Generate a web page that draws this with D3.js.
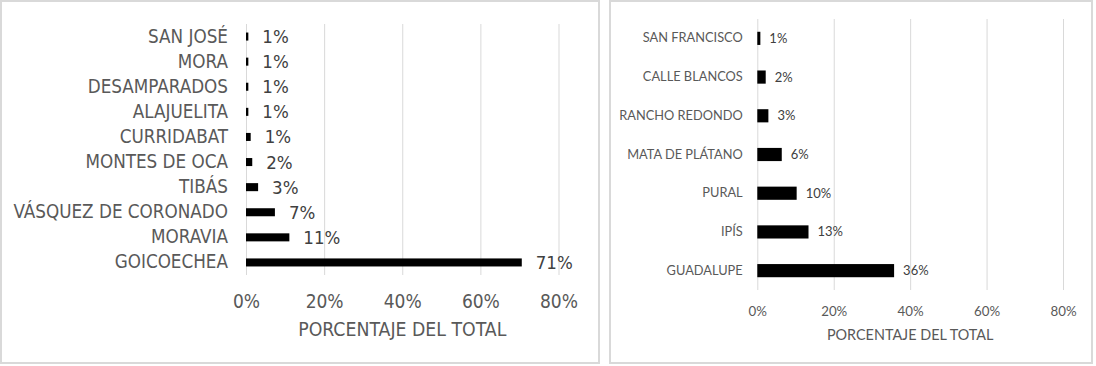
<!DOCTYPE html>
<html>
<head>
<meta charset="utf-8">
<script src="https://cdn.jsdelivr.net/npm/d3@7"></script>
<style>
    body { margin: 0; background: #fff; }
    .grid line { stroke: #d9d9d9; stroke-width: 1; }
    .grid .domain { display: none; }
    .cat .domain { display: none; }
</style>
</head>
<body>
<div id="chart-area"></div>
<script>

// Data (top to bottom, as in the picture)
var cantones = ["SAN JOSÉ", "MORA", "DESAMPARADOS", "ALAJUELITA", "CURRIDABAT",
    "MONTES DE OCA", "TIBÁS", "VÁSQUEZ DE CORONADO", "MORAVIA", "GOICOECHEA"];
var cantonPct = [0.6, 0.6, 0.6, 0.6, 1.2, 1.6, 3.1, 7.4, 11.1, 70.6];

var distritos = ["SAN FRANCISCO", "CALLE BLANCOS", "RANCHO REDONDO", "MATA DE PLÁTANO",
    "PURAL", "IPÍS", "GUADALUPE"];
var distritoPct = [0.8, 2.2, 2.9, 6.4, 10.3, 13.4, 35.8];

var xTicks = [0, 20, 40, 60, 80];
var xTitle = "PORCENTAJE DEL TOTAL";


// SVG drawing area
var svg = d3.select("#chart-area").append("svg")
    .attr("width", 1096)
    .attr("height", 366);

barPanel(cantones, cantonPct, {
    box: [1, 1, 599, 363],
    left: 246, top: 24, width: 312.5, height: 251,
    pad: 0.68,
    font: "Tahoma, 'DejaVu Sans Condensed', 'DejaVu Sans', sans-serif",
    catSize: 18.7, valSize: 18.5, tickSize: 19, titleSize: 19.3,
    catGap: 18, valGap: 14, tickPad: 20, titleY: 329
});

barPanel(distritos, distritoPct, {
    box: [610, 1, 1092, 363],
    left: 757.3, top: 19, width: 305.7, height: 271,
    pad: 0.66,
    font: "Lato, Calibri, sans-serif",
    catSize: 12.8, valSize: 13, tickSize: 13.3, titleSize: 14.4,
    catGap: 14.6, valGap: 9, tickPad: 16.5, titleY: 335
});


function barPanel(names, values, p) {

    // panel border
    svg.append("rect")
        .attr("x", p.box[0])
        .attr("y", p.box[1])
        .attr("width", p.box[2] - p.box[0])
        .attr("height", p.box[3] - p.box[1])
        .attr("fill", "#fff")
        .attr("stroke", "#d9d9d9")
        .attr("stroke-width", 2);

    var g = svg.append("g")
        .attr("transform", "translate(" + p.left + "," + p.top + ")");

    // Scales
    var x = d3.scaleLinear()
        .domain([0, 80])
        .range([0, p.width]);

    var y = d3.scaleBand()
        .domain(names)
        .range([0, p.height])
        .paddingInner(p.pad)
        .paddingOuter(p.pad / 2);

    // gridlines + tick labels
    var xAxis = d3.axisBottom(x)
        .tickValues(xTicks)
        .tickSize(-p.height)
        .tickPadding(p.tickPad)
        .tickFormat(function(d) { return d + "%"; });

    var xAxisGroup = g.append("g")
        .attr("class", "grid")
        .attr("transform", "translate(0," + p.height + ")")
        .call(xAxis);

    xAxisGroup.selectAll("text")
        .attr("fill", "#595959")
        .style("font-family", p.font)
        .style("font-size", p.tickSize + "px");

    // category labels
    var yAxis = d3.axisLeft(y)
        .tickSize(0)
        .tickPadding(p.catGap);

    var yAxisGroup = g.append("g")
        .attr("class", "cat")
        .call(yAxis);

    yAxisGroup.selectAll("text")
        .attr("fill", "#595959")
        .style("font-family", p.font)
        .style("font-size", p.catSize + "px");

    // bars
    g.selectAll(".bar")
        .data(names)
        .enter().append("rect")
        .attr("class", "bar")
        .attr("x", x(0))
        .attr("y", function(d) { return y(d); })
        .attr("width", function(d, i) { return x(values[i]) - x(0); })
        .attr("height", y.bandwidth())
        .attr("fill", "#000");

    // value labels
    g.selectAll(".val")
        .data(names)
        .enter().append("text")
        .attr("class", "val")
        .attr("x", function(d, i) { return x(values[i]) + p.valGap; })
        .attr("y", function(d) { return y(d) + y.bandwidth() / 2; })
        .attr("dy", "0.35em")
        .attr("fill", "#404040")
        .style("font-family", p.font)
        .style("font-size", p.valSize + "px")
        .text(function(d, i) { return Math.round(values[i]) + "%"; });

    // axis title
    svg.append("text")
        .attr("x", p.left + p.width / 2)
        .attr("y", p.titleY)
        .attr("dy", "0.35em")
        .attr("text-anchor", "middle")
        .attr("fill", "#595959")
        .style("font-family", p.font)
        .style("font-size", p.titleSize + "px")
        .text(xTitle);
}

</script>
</body>
</html>
